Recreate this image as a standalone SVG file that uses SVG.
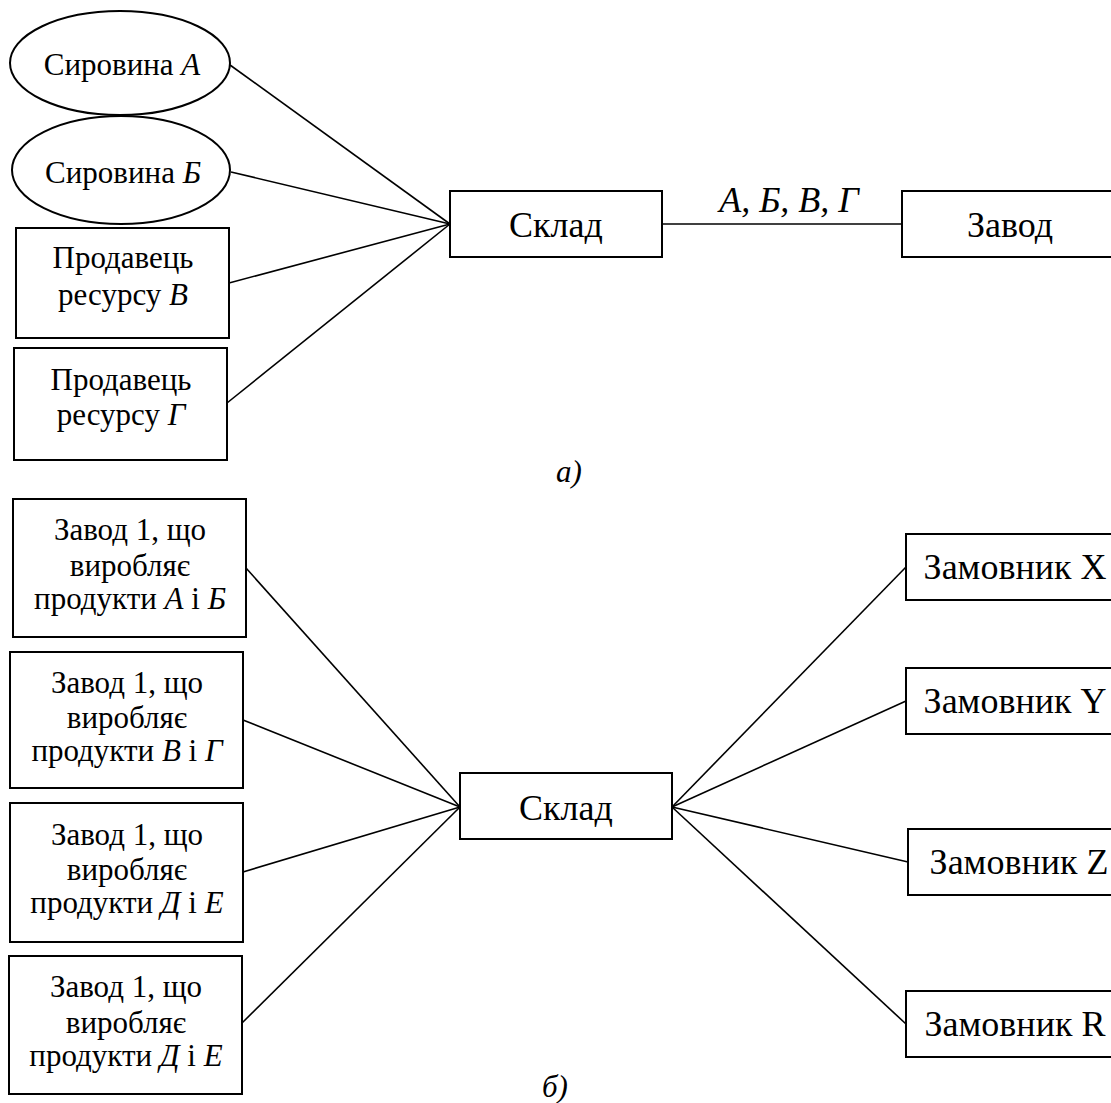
<svg xmlns="http://www.w3.org/2000/svg" width="1111" height="1103" viewBox="0 0 1111 1103">
  <style>
    .node { fill: #ffffff; stroke: #000000; stroke-width: 2; }
    .edge { stroke: #000000; stroke-width: 1.6; fill: none; }
    text { font-family: "Liberation Serif", "Times New Roman", "DejaVu Serif", serif; fill: #000000; text-anchor: middle; }
    .s { font-size: 31px; }
    .b { font-size: 36px; }
    .i { font-style: italic; }
  </style>
  <rect width="1111" height="1103" fill="#ffffff"/>

  <!-- connectors -->
  <g id="connectors">
    <line class="edge" x1="230" y1="65" x2="450" y2="224"/>
    <line class="edge" x1="231" y1="172" x2="450" y2="224"/>
    <line class="edge" x1="229" y1="283" x2="450" y2="224"/>
    <line class="edge" x1="227" y1="403" x2="450" y2="224"/>
    <line class="edge" x1="662" y1="224" x2="902" y2="224"/>

    <line class="edge" x1="246" y1="568" x2="460" y2="807"/>
    <line class="edge" x1="243" y1="720" x2="460" y2="807"/>
    <line class="edge" x1="243" y1="872" x2="460" y2="807"/>
    <line class="edge" x1="242" y1="1023" x2="460" y2="807"/>

    <line class="edge" x1="672" y1="807" x2="906" y2="567"/>
    <line class="edge" x1="672" y1="807" x2="906" y2="701"/>
    <line class="edge" x1="672" y1="807" x2="908" y2="862"/>
    <line class="edge" x1="672" y1="807" x2="906" y2="1024"/>
  </g>

  <!-- scheme a: suppliers, warehouse, plant -->
  <g id="raw-a">
    <ellipse class="node" cx="120" cy="63" rx="110" ry="52"/>
    <text class="s" x="122" y="75">Сировина <tspan class="i">А</tspan></text>
  </g>
  <g id="raw-b">
    <ellipse class="node" cx="121" cy="170" rx="109" ry="54"/>
    <text class="s" x="123" y="183">Сировина <tspan class="i">Б</tspan></text>
  </g>
  <g id="seller-v">
    <rect class="node" x="16" y="228" width="213" height="110"/>
    <text class="s" x="123" y="268">Продавець</text>
    <text class="s" x="123" y="305">ресурсу <tspan class="i">В</tspan></text>
  </g>
  <g id="seller-g">
    <rect class="node" x="14" y="348" width="213" height="112"/>
    <text class="s" x="121" y="390">Продавець</text>
    <text class="s" x="121" y="425">ресурсу <tspan class="i">Г</tspan></text>
  </g>
  <g id="warehouse-a">
    <rect class="node" x="450" y="191" width="212" height="66"/>
    <text class="b" x="556" y="237">Склад</text>
  </g>
  <g id="plant-a">
    <rect class="node" x="902" y="191" width="230" height="66"/>
    <text class="b" x="1010" y="237">Завод</text>
  </g>
  <text class="b i" x="789" y="212">А, Б, В, Г</text>
  <text class="s i" x="569" y="482">а)</text>

  <!-- scheme b: plants, warehouse, customers -->
  <g id="plant-1">
    <rect class="node" x="13" y="499" width="233" height="138"/>
    <text class="s" x="130" y="540">Завод 1, що</text>
    <text class="s" x="130" y="576">виробляє</text>
    <text class="s" x="130" y="609">продукти <tspan class="i">А</tspan> і <tspan class="i">Б</tspan></text>
  </g>
  <g id="plant-2">
    <rect class="node" x="10" y="652" width="233" height="136"/>
    <text class="s" x="127" y="693">Завод 1, що</text>
    <text class="s" x="127" y="728">виробляє</text>
    <text class="s" x="127" y="761">продукти <tspan class="i">В</tspan> і <tspan class="i">Г</tspan></text>
  </g>
  <g id="plant-3">
    <rect class="node" x="10" y="803" width="233" height="139"/>
    <text class="s" x="127" y="845">Завод 1, що</text>
    <text class="s" x="127" y="880">виробляє</text>
    <text class="s" x="127" y="913">продукти <tspan class="i">Д</tspan> і <tspan class="i">Е</tspan></text>
  </g>
  <g id="plant-4">
    <rect class="node" x="9" y="956" width="233" height="138"/>
    <text class="s" x="126" y="997">Завод 1, що</text>
    <text class="s" x="126" y="1033">виробляє</text>
    <text class="s" x="126" y="1066">продукти <tspan class="i">Д</tspan> і <tspan class="i">Е</tspan></text>
  </g>
  <g id="warehouse-b">
    <rect class="node" x="460" y="773" width="212" height="66"/>
    <text class="b" x="566" y="820">Склад</text>
  </g>
  <g id="customer-x">
    <rect class="node" x="906" y="534" width="230" height="66"/>
    <text class="b" x="1015" y="579">Замовник X</text>
  </g>
  <g id="customer-y">
    <rect class="node" x="906" y="668" width="230" height="66"/>
    <text class="b" x="1015" y="713">Замовник Y</text>
  </g>
  <g id="customer-z">
    <rect class="node" x="908" y="829" width="230" height="66"/>
    <text class="b" x="1019" y="874">Замовник Z</text>
  </g>
  <g id="customer-r">
    <rect class="node" x="906" y="991" width="230" height="66"/>
    <text class="b" x="1015" y="1036">Замовник R</text>
  </g>
  <text class="s i" x="555" y="1097">б)</text>
</svg>
